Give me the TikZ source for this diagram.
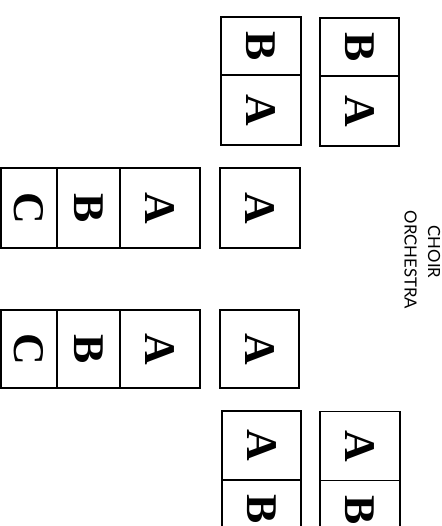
\documentclass[tikz,border=0pt]{standalone}
\usepackage{fontspec}
\setmainfont{Liberation Serif}
\newfontfamily\labelfont{Lato}
\begin{document}
\begin{tikzpicture}[x=1bp,y=-1bp,
  cell/.style={draw=black, line width=1.5bp, inner sep=0pt, outer sep=0pt,
    rectangle, font=\fontsize{44}{44}\selectfont\bfseries},
  divider/.style={draw=black, line width=2.6bp},
  caption/.style={font=\labelfont\fontsize{16.8}{16.8}\selectfont, inner sep=0pt, rotate=-90}]
\useasboundingbox (0,0) rectangle (442,526);
\clip (0,0) rectangle (442,526);
\fill[white] (0,0) rectangle (442,526);
% top groups
\node[cell, minimum width=80bp, minimum height=58bp] (tlB) at (261,46) {\rotatebox{-90}{B}};
\node[cell, minimum width=80bp, minimum height=70bp] (tlA) at (261,110) {\rotatebox{-90}{A}};
\node[cell, minimum width=79bp, minimum height=58bp] (trB) at (359.5,47) {\rotatebox{-90}{B}};
\node[cell, minimum width=79bp, minimum height=70bp] (trA) at (359.5,111) {\rotatebox{-90}{A}};
% upper ABC row
\node[cell, minimum width=56bp, minimum height=80bp] (u1C) at (29,208) {\rotatebox{-90}{C}};
\node[cell, minimum width=63bp, minimum height=80bp] (u1B) at (88.5,208) {\rotatebox{-90}{B}};
\node[cell, minimum width=80bp, minimum height=80bp] (u1A) at (160,208) {\rotatebox{-90}{A}};
\node[cell, minimum width=80bp, minimum height=80bp] (u1S) at (260,208) {\rotatebox{-90}{A}};
\draw[divider] (u1C.north east) -- (u1C.south east);
\draw[divider] (u1B.north east) -- (u1B.south east);
% lower ABC row
\node[cell, minimum width=56bp, minimum height=78bp] (l1C) at (29,349) {\rotatebox{-90}{C}};
\node[cell, minimum width=63bp, minimum height=78bp] (l1B) at (88.5,349) {\rotatebox{-90}{B}};
\node[cell, minimum width=80bp, minimum height=78bp] (l1A) at (160,349) {\rotatebox{-90}{A}};
\node[cell, minimum width=79bp, minimum height=78bp] (l1S) at (259.5,349) {\rotatebox{-90}{A}};
\draw[divider] (l1C.north east) -- (l1C.south east);
\draw[divider] (l1B.north east) -- (l1B.south east);
% bottom groups
\node[cell, minimum width=79bp, minimum height=69bp] (blA) at (261.5,445.5) {\rotatebox{-90}{A}};
\node[cell, minimum width=79bp, minimum height=59bp] (blB) at (261.5,509.5) {\rotatebox{-90}{B}};
\node[cell, minimum width=80bp, minimum height=69bp] (brA) at (360,446) {\rotatebox{-90}{A}};
\node[cell, minimum width=80bp, minimum height=59bp] (brB) at (360,510) {\rotatebox{-90}{B}};
% captions
\node[caption] (choir) at (434,252) {CHOIR};
\node[caption] (orch) at (410.5,260) {ORCHESTRA};
\end{tikzpicture}
\end{document}
